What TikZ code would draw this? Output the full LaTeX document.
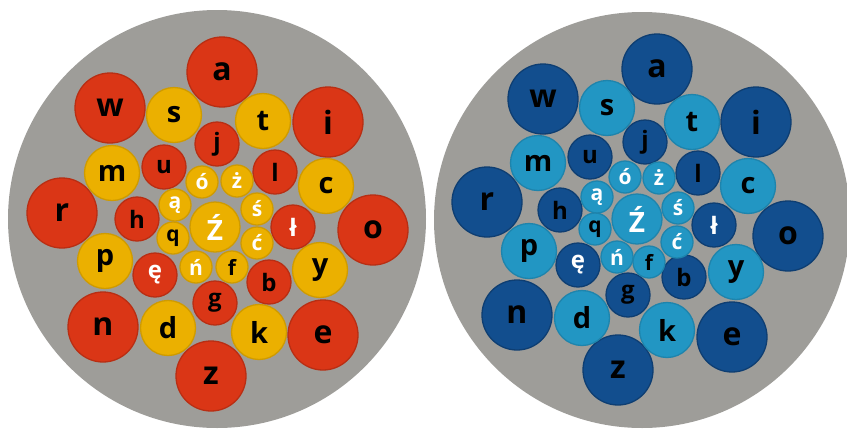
\documentclass[tikz,border=0pt]{standalone}
\usepackage{fontspec}
\setmainfont{Open Sans}
\usepackage{xcolor}

\definecolor{plate}{HTML}{9E9D99}
\definecolor{ballred}{HTML}{DA3616}
\definecolor{ballyellow}{HTML}{EBB000}
\definecolor{balldark}{HTML}{124E8E}
\definecolor{balllight}{HTML}{2296C3}

\tikzset{
  ball/.style={circle,inner sep=0pt,line width=1.3pt},
  bigball/.style={ball,minimum size=70pt,font=\fontsize{32}{32}\selectfont\bfseries},
  midball/.style={ball,minimum size=55pt,font=\fontsize{29}{29}\selectfont\bfseries},
  smallball/.style={ball,minimum size=44pt,font=\fontsize{24}{24}\selectfont\bfseries},
  tinyball/.style={ball,minimum size=32pt,font=\fontsize{21}{21}\selectfont\bfseries},
  hubball/.style={ball,minimum size=50pt,font=\fontsize{28}{28}\selectfont\bfseries},
  red/.style={fill=ballred,draw=ballred!85!black},
  yellow/.style={fill=ballyellow,draw=ballyellow!88!black},
  dark/.style={fill=balldark,draw=balldark!80!black},
  light/.style={fill=balllight,draw=balllight!88!black},
}

\begin{document}
\begin{tikzpicture}[x=1pt,y=-1pt]
\useasboundingbox (0,0) rectangle (847,429);
\clip (0,0) rectangle (847,429);

% left plate
\fill[plate] (217,219) circle (209);
\foreach \n/\x/\y in {a/222/72,w/110/108,i/328/122,r/62/213,o/373/230,n/103/327,e/323/335,z/211/376}
  \node[bigball,red] (L\n) at (\x,\y) {\n};
\foreach \n/\x/\y in {s/174/115,t/263/121,m/112/173,c/326/186,p/105/261,y/320/270,d/168/328,k/259/332}
  \node[midball,yellow] (L\n) at (\x,\y) {\n};
\foreach \n/\x/\y/\t/\c in {j/217/144/j/black,u/164/167/u/black,l/275/172/l/black,h/137/219/h/black,
    lbar/293/227/ł/white,eog/155/275/ę/white,b/269/282/b/black,g/215/303/g/black}
  \node[smallball,red,text=\c] (L\n) at (\x,\y) {\t};
\foreach \n/\x/\y/\t/\c in {oac/202/182/ó/white,zdot/237/181/ż/white,aog/175/205/ą/white,sac/257/209/ś/white,
    q/173/238/q/black,cac/257/243/ć/white,nac/196/267/ń/white,f/232/267/f/black}
  \node[tinyball,yellow,text=\c] (L\n) at (\x,\y) {\t};
\node[hubball,yellow,text=white] (Lzac) at (215,227) {Ź};

% right plate
\fill[plate] (642,220) circle (208);
\foreach \n/\x/\y in {a/657/69,w/543/99,i/756/122,r/487/202,o/788/236,n/517/315,e/732/337,z/618/370}
  \node[bigball,dark] (R\n) at (\x,\y) {\n};
\foreach \n/\x/\y in {s/607/108,t/692/122,m/538/163,c/748/186,p/529/251,y/736/272,d/582/318,k/667/330}
  \node[midball,light] (R\n) at (\x,\y) {\n};
\foreach \n/\x/\y/\t/\c in {j/645/142/j/black,u/590/157/u/black,l/698/173/l/black,h/560/210/h/black,
    lbar/714/225/ł/white,eog/578/265/ę/white,b/684/277/b/black,g/628/295/g/black}
  \node[smallball,dark,text=\c] (R\n) at (\x,\y) {\t};
\foreach \n/\x/\y/\t/\c in {oac/625/177/ó/white,zdot/659/178/ż/white,aog/597/197/ą/white,sac/678/208/ś/white,
    q/595/229/q/black,cac/677/242/ć/white,nac/617/257/ń/white,f/649/262/f/black}
  \node[tinyball,light,text=\c] (R\n) at (\x,\y) {\t};
\node[hubball,light,text=white] (Rzac) at (637,219) {Ź};
\end{tikzpicture}
\end{document}
